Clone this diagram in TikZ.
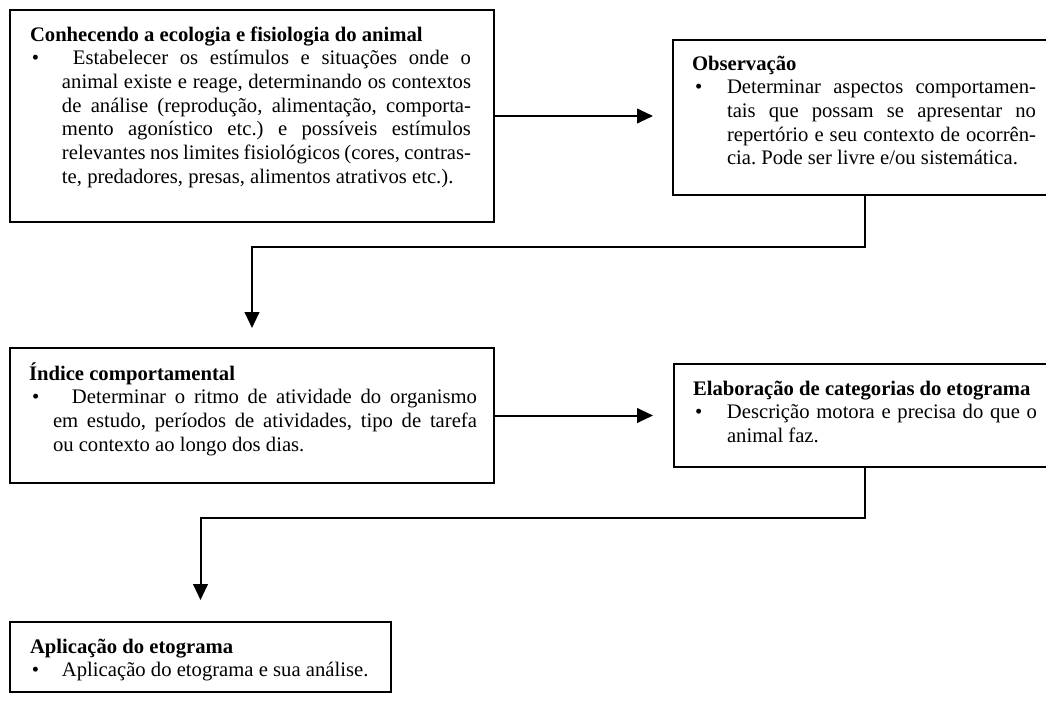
\documentclass[tikz,border=0pt]{standalone}
\usepackage{fontspec}
\setmainfont{Liberation Serif}
\usetikzlibrary{arrows.meta}
% title line with fixed strut
\newcommand{\boxtitle}[1]{\rule{0pt}{15pt}\textbf{#1}}
% bullet line, justified: #1 bullet offset, #2 hang indent, #3 extra space, #4 width, #5 text
\newcommand{\bfirst}[5]{\hspace*{#1}\makebox[\dimexpr#2-#1\relax][l]{\textbullet}\hspace*{#3}\makebox[#4][s]{#5}}
% bullet line, natural
\newcommand{\bnat}[4]{\hspace*{#1}\makebox[\dimexpr#2-#1\relax][l]{\textbullet}\hspace*{#3}#4}
% continuation line justified / natural
\newcommand{\jline}[3]{\hspace*{#1}\makebox[#2][s]{#3}}
\newcommand{\nline}[2]{\hspace*{#1}#2}
\begin{document}
\frenchspacing
\begin{tikzpicture}[x=0.75pt,y=-0.75pt,
  box/.style={draw, line width=1.5pt, anchor=north west, inner sep=0pt, outer sep=0pt},
  txt/.style={anchor=north west, inner sep=0pt, outer sep=0pt, align=left, font=\fontsize{15.5pt}{17.75pt}\selectfont\frenchspacing},
  arr/.style={line width=1.5pt, -{Triangle[length=12pt,width=11pt]}}]
\useasboundingbox (0,0) rectangle (1046,704);
% boxes
\node[box, minimum width=363pt, minimum height=159pt] (b1) at (10,10) {};
\node[box, minimum width=288pt, minimum height=116.25pt] (b2) at (673,40) {};
\node[box, minimum width=363pt, minimum height=101.25pt] (b3) at (10,348) {};
\node[box, minimum width=286.5pt, minimum height=77.25pt] (b4) at (674,364) {};
\node[box, minimum width=285.75pt, minimum height=52.5pt] (b5) at (10,622) {};
% texts
\node[txt] (t1) at (30,21) {\boxtitle{Conhecendo a ecologia e fisiologia do animal}\\
\bfirst{1.5pt}{24pt}{8.25pt}{298.5pt}{Estabelecer os estímulos e situações onde o}\\
\jline{24pt}{306.75pt}{animal existe e reage, determinando os contextos}\\
\jline{24pt}{306.75pt}{de análise (reprodução, alimentação, comporta-}\\
\jline{24pt}{306.75pt}{mento agonístico etc.) e possíveis estímulos}\\
\jline{24pt}{306.75pt}{relevantes nos limites fisiológicos (cores, contras-}\\
\nline{24pt}{te, predadores, presas, alimentos atrativos etc.).}};
\node[txt] (t2) at (692,50) {\boxtitle{Observação}\\
\bfirst{2.25pt}{26.25pt}{0pt}{231.75pt}{Determinar aspectos comportamen-}\\
\jline{26.25pt}{231.75pt}{tais que possam se apresentar no}\\
\jline{26.25pt}{231.75pt}{repertório e seu contexto de ocorrên-}\\
\nline{26.25pt}{cia. Pode ser livre e/ou sistemática.}};
\node[txt] (t3) at (29,360) {\boxtitle{Índice comportamental}\\
\bfirst{2.25pt}{18pt}{14.25pt}{303.75pt}{Determinar o ritmo de atividade do organismo}\\
\jline{18pt}{318pt}{em estudo, períodos de atividades, tipo de tarefa}\\
\nline{18pt}{ou contexto ao longo dos dias.}};
\node[txt] (t4) at (693,375) {\boxtitle{Elaboração de categorias do etograma}\\
\bfirst{1.5pt}{25.5pt}{0pt}{232.5pt}{Descrição motora e precisa do que o}\\
\nline{25.5pt}{animal faz.}};
\node[txt] (t5) at (30,633) {\boxtitle{Aplicação do etograma}\\
\bnat{1.5pt}{24pt}{0pt}{Aplicação do etograma e sua análise.}};
% connectors
\coordinate (a1) at ([xshift=-15pt]b2.west);
\coordinate (a3) at ([xshift=-15.75pt]b4.west);
\coordinate (a2) at ([yshift=15pt]b3.north);
\coordinate (a4) at ([yshift=16.5pt]b5.north);
\coordinate (k2) at (865,247);
\coordinate (k4) at (865,518);
\draw[arr] (b1.east) -- (a1 |- b1.east);
\draw[arr] (b2.south) -- (b2.south |- k2) -- (b3.north |- k2) -- (a2);
\draw[arr] (b3.east) -- (a3 |- b3.east);
\draw[arr] (b4.south) -- (b4.south |- k4) -- (b5.north |- k4) -- (a4);
\end{tikzpicture}
\end{document}
